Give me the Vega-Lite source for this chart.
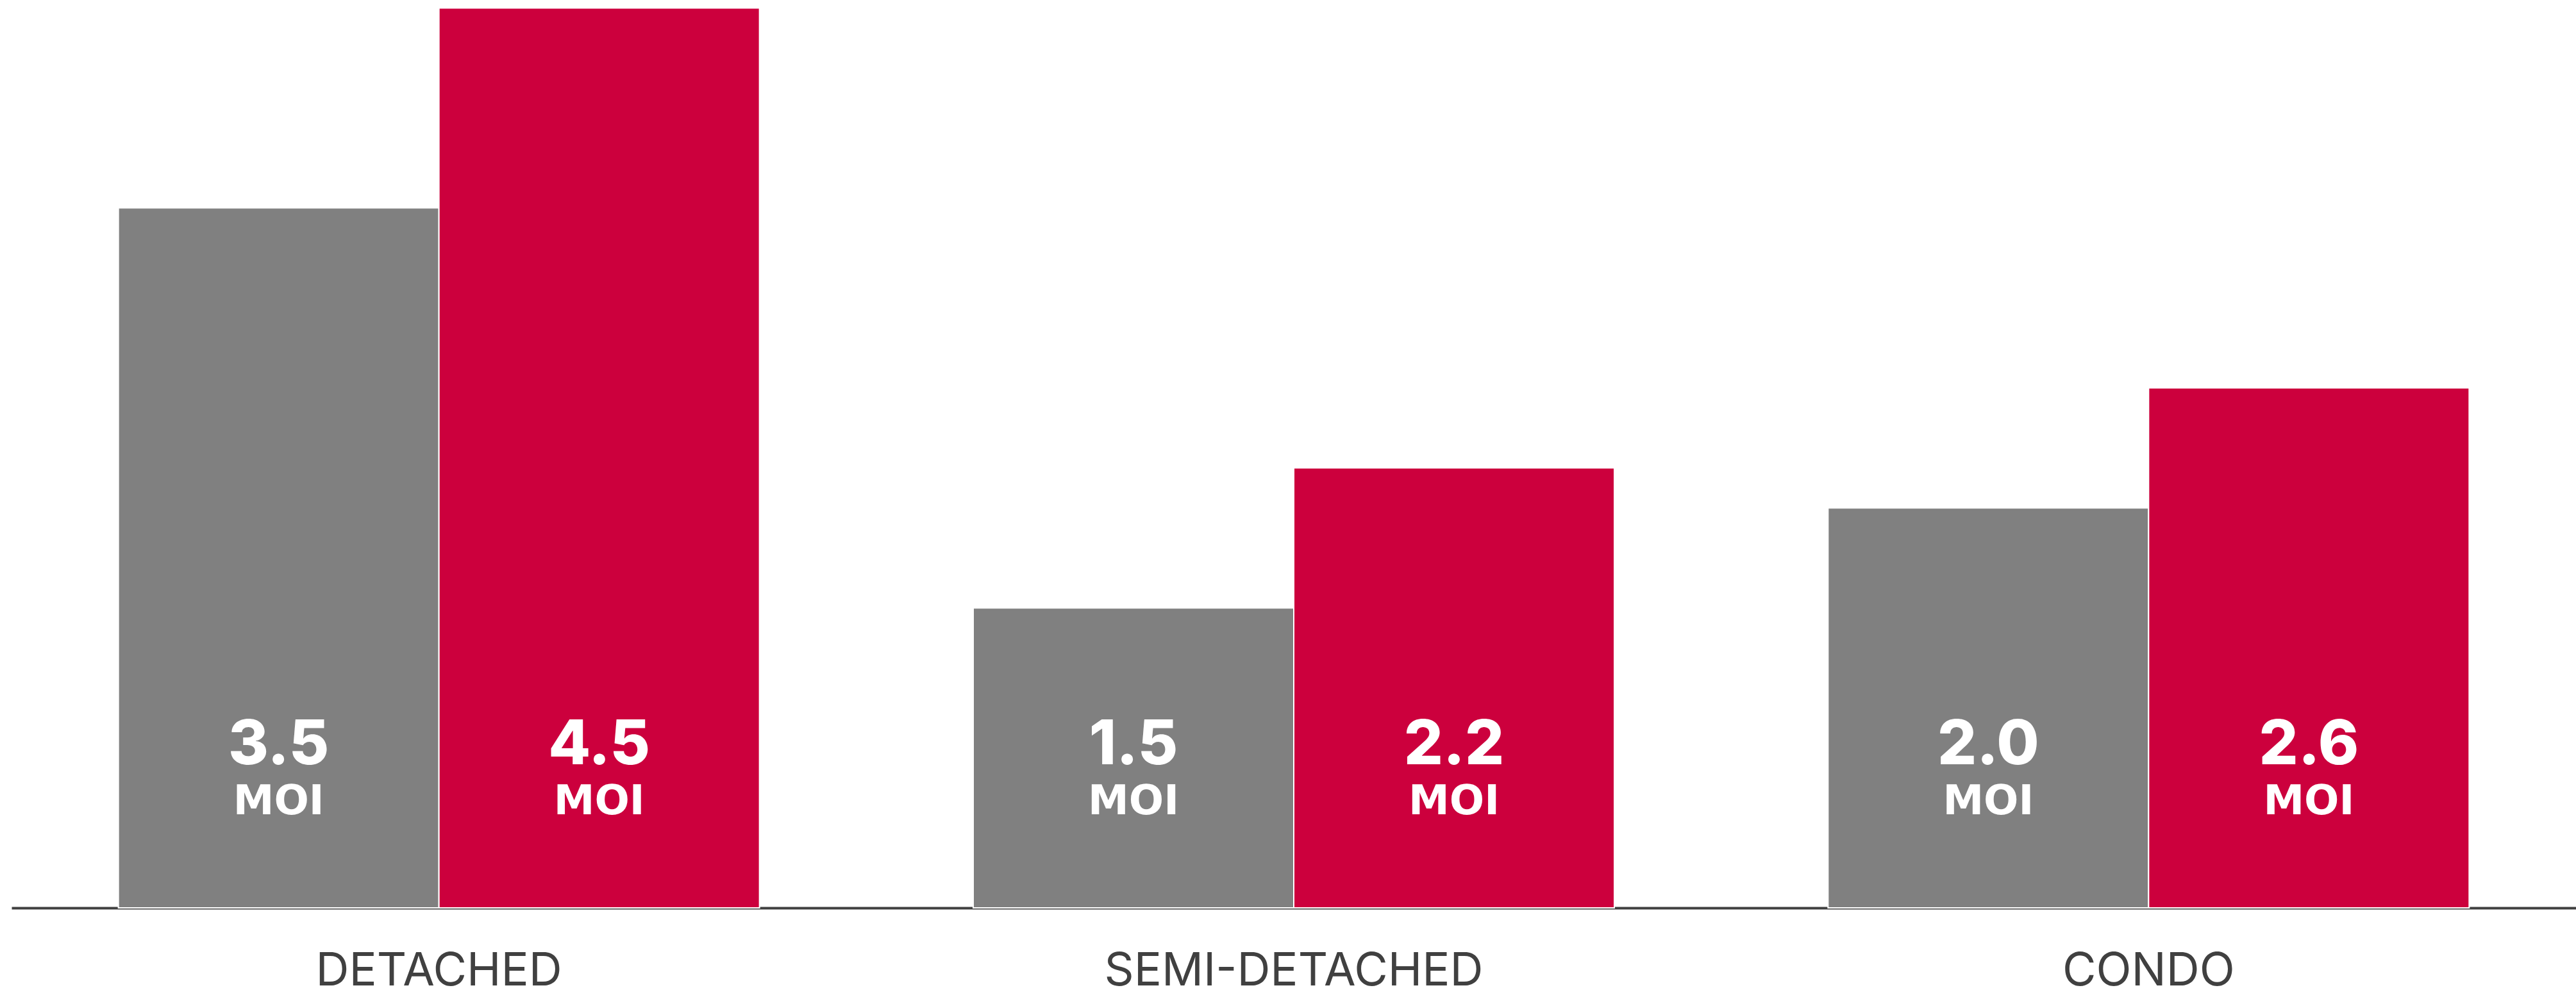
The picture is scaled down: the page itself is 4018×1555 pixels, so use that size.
{
  "$schema": "https://vega.github.io/schema/vega-lite/v6.json",
  "width": 4000,
  "height": 1416,
  "autosize": {"type": "none"},
  "padding": {"left": 18, "top": 0, "right": 0, "bottom": 139},
  "background": "white",
  "config": {"view": {"stroke": null}},
  "data": {
    "values": [
      {"type": "DETACHED", "series": "a", "moi": 3.5},
      {"type": "DETACHED", "series": "b", "moi": 4.5},
      {"type": "SEMI-DETACHED", "series": "a", "moi": 1.5},
      {"type": "SEMI-DETACHED", "series": "b", "moi": 2.2},
      {"type": "CONDO", "series": "a", "moi": 2.0},
      {"type": "CONDO", "series": "b", "moi": 2.6}
    ]
  },
  "encoding": {
    "x": {
      "field": "type",
      "type": "nominal",
      "sort": ["DETACHED", "SEMI-DETACHED", "CONDO"],
      "scale": {"paddingInner": 0.25, "paddingOuter": 0.125},
      "axis": {
        "title": null,
        "ticks": false,
        "tickSize": 0,
        "grid": false,
        "labelAngle": 0,
        "labelLimit": 0,
        "labelFont": "Inter",
        "labelFontSize": 72,
        "labelColor": "#404040",
        "labelBaseline": "alphabetic",
        "labelPadding": 120,
        "domainColor": "#404040",
        "domainWidth": 4
      }
    },
    "xOffset": {"field": "series", "type": "nominal", "scale": {"paddingInner": 0, "paddingOuter": 0}}
  },
  "layer": [
    {
      "mark": {"type": "bar", "stroke": "white", "strokeWidth": 2},
      "encoding": {
        "y": {
          "field": "moi",
          "type": "quantitative",
          "scale": {"domain": [0, 4.54], "nice": false, "zero": true},
          "axis": null
        },
        "color": {
          "field": "series",
          "type": "nominal",
          "scale": {"domain": ["a", "b"], "range": ["#808080", "#CC003D"]},
          "legend": null
        }
      }
    },
    {
      "mark": {"type": "text", "font": "Inter", "fontWeight": 800, "fontSize": 96, "color": "white", "baseline": "alphabetic", "align": "center"},
      "encoding": {
        "y": {"datum": 0.718, "type": "quantitative"},
        "text": {"field": "moi", "type": "quantitative", "format": ".1f"}
      }
    },
    {
      "mark": {"type": "text", "font": "DejaVu Sans", "fontWeight": "bold", "fontSize": 64, "color": "white", "baseline": "alphabetic", "align": "center", "text": "MOI"},
      "encoding": {
        "y": {"datum": 0.468, "type": "quantitative"}
      }
    }
  ]
}
